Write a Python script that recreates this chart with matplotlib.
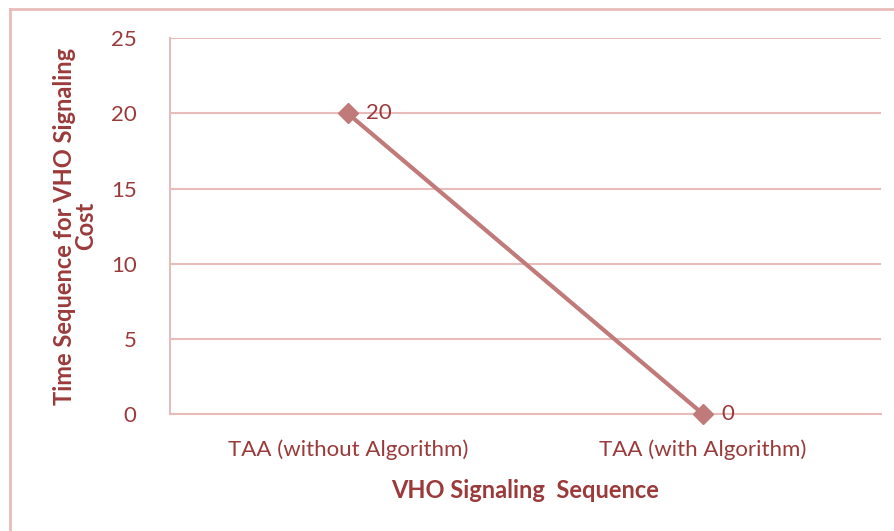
import numpy as np
import matplotlib.pyplot as plt
from matplotlib.lines import Line2D

categories = ['TAA (without Algorithm)', 'TAA (with Algorithm)']
values = [20, 0]
y_ticks = [0, 5, 10, 15, 20, 25]

text_col = '#9b3a3a'
line_col = '#c07a79'
grid_col = '#e9bcbc'

plt.rcParams['font.family'] = ['Lato', 'DejaVu Sans']

fig = plt.figure(figsize=(8.95, 5.31), dpi=100)
ax = fig.add_axes([0.19, 0.2203, 0.794, 0.7077])

x = np.arange(len(categories))
ax.plot(x, values, color=line_col, lw=3, marker='D', ms=10,
        markerfacecolor=line_col, markeredgecolor=line_col, clip_on=False,
        zorder=3)
for xi, v in zip(x, values):
    ax.annotate(str(v), (xi, v), xytext=(13, 0), textcoords='offset points',
                va='center', ha='left', fontsize=16, color=text_col)

ax.set_xlim(-0.5, 1.5)
ax.set_ylim(0, 25)
ax.set_xticks(x)
ax.set_xticklabels(categories)
ax.set_yticks(y_ticks)
ax.tick_params(length=0, labelsize=16, labelcolor=text_col, pad=18)
ax.tick_params(axis='y', pad=24)
ax.grid(axis='y', color=grid_col, lw=1.5)
ax.set_axisbelow(True)
for s in ['top', 'right']:
    ax.spines[s].set_visible(False)
for s in ['left', 'bottom']:
    ax.spines[s].set_color(grid_col)
    ax.spines[s].set_linewidth(1.5)

ax.set_xlabel('VHO Signaling  Sequence', fontsize=17, fontweight='bold',
              color=text_col, labelpad=14)
ax.set_ylabel('Time Sequence for VHO Signaling\nCost', fontsize=17,
              fontweight='bold', color=text_col, labelpad=10, linespacing=0.92)

# chart frame
fig.add_artist(Line2D([0.0112, 0.0112], [0, 0.983], color=grid_col, lw=2,
                      transform=fig.transFigure))
fig.add_artist(Line2D([0.0112, 1], [0.983, 0.983], color=grid_col, lw=2,
                      transform=fig.transFigure))

fig.savefig('out.png', dpi=100)
